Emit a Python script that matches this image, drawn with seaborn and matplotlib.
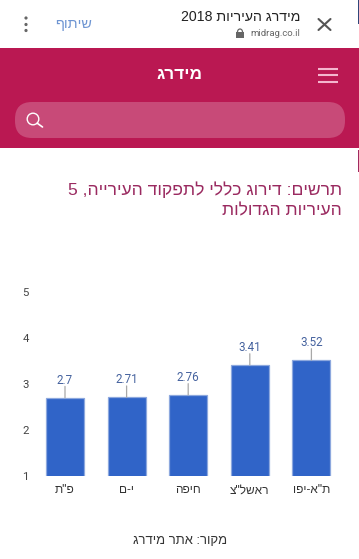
import re
import matplotlib
matplotlib.use("Agg")
import matplotlib.pyplot as plt
from matplotlib.patches import FancyBboxPatch, Circle, Rectangle, Arc
import seaborn as sns
import pandas as pd

cities = ['פ"ת', 'י-ם', 'חיפה', 'ראשל"צ', 'ת"א-יפו']
scores = [2.7, 2.71, 2.76, 3.41, 3.52]
score_labels = ['2.7', '2.71', '2.76', '3.41', '3.52']
y_ticks = [1, 2, 3, 4, 5]
chart_title = ['תרשים: דירוג כללי לתפקוד העירייה, 5', 'העיריות הגדולות']
source_text = 'מקור: אתר מידרג'
browser_title = 'מידרג העיריות 2018'
browser_url = 'midrag.co.il'
share_text = 'שיתוף'
brand_text = 'מידרג'

W, H = 359, 559
BLUE = '#3064C8'
EDGE = '#8DA8DE'
CRIMSON = '#BA1852'
SEARCH = '#C84A78'
HEB = ['Liberation Sans', 'DejaVu Sans']
NUM = ['Roboto', 'Liberation Sans']


def visual(s):
    """matplotlib has no bidi support: lay RTL text out in visual order."""
    runs = re.findall(r'\d+|\D', s)
    return ''.join(reversed(runs))


sns.set_theme(style='white')
fig = plt.figure(figsize=(W / 100, H / 100), dpi=100, facecolor='white')

# Chart axes
left, right, top, bottom = 34.2, 342.2, 292, 476
ax = fig.add_axes([left / W, 1 - bottom / H, (right - left) / W, (bottom - top) / H])
df = pd.DataFrame({'city': cities, 'score': scores})
sns.barplot(data=df, x='city', y='score', color=BLUE, saturation=1, width=0.615,
            edgecolor=EDGE, linewidth=0.9, ax=ax)
ax.set_ylim(y_ticks[0], y_ticks[-1])
ax.set_yticks(y_ticks)
ax.set_yticklabels([str(t) for t in y_ticks], family=NUM, fontsize=8.2, color='#444444')
ax.set_xticks(range(len(cities)))
ax.set_xticklabels([visual(c) for c in cities], family=HEB, fontsize=8.6, color='#333333')
ax.set_xlabel('')
ax.set_ylabel('')
ax.tick_params(axis='both', length=0)
ax.tick_params(axis='y', pad=4)
ax.tick_params(axis='x', pad=6)
for s in ax.spines.values():
    s.set_visible(False)
ax.patch.set_alpha(0)

for i, (v, lab) in enumerate(zip(scores, score_labels)):
    ax.annotate('', xy=(i, v), xytext=(0, 8.2), textcoords='offset points',
                arrowprops=dict(arrowstyle='-', color='#A8A8A8', lw=0.9,
                                shrinkA=0, shrinkB=0))
    ax.annotate(lab, xy=(i, v), xytext=(0, 8.0), textcoords='offset points',
                ha='center', va='bottom', family=NUM, fontsize=8.4, color='#45629E')

# Page chrome, in pixel coordinates
ui = fig.add_axes([0, 0, 1, 1], zorder=-1)
ui.set_xlim(0, W)
ui.set_ylim(H, 0)
ui.axis('off')

ui.add_patch(Rectangle((0, 48), W, 100, color=CRIMSON, lw=0))
ui.add_patch(Rectangle((358, 0), 1, 24, color='#30467A', lw=0))
ui.add_patch(Rectangle((358, 150), 1, 22, color='#A02A60', lw=0))
ui.add_patch(FancyBboxPatch((15, 102), 330, 36, boxstyle='round,pad=0,rounding_size=17',
                            color=SEARCH, lw=0))

# search icon
ui.add_patch(Circle((33, 119), 5.8, fill=False, ec='white', lw=1.0))
ui.plot([37.2, 42.5], [123.2, 127], color='white', lw=1.2, solid_capstyle='round')
# hamburger
for y in (68.5, 75, 81.5):
    ui.plot([318, 337.5], [y, y], color='#F4B6CE', lw=1.5, solid_capstyle='butt')
# close
ui.plot([318.5, 330.5], [19, 30], color='#555555', lw=1.5)
ui.plot([318.5, 330.5], [30, 19], color='#555555', lw=1.5)
# three dots
for y in (18, 24.5, 30.5):
    ui.add_patch(Circle((26, y), 1.6, color='#666666', lw=0))
# lock
ui.add_patch(Rectangle((236, 32), 8, 6, color='#666666', lw=0))
ui.add_patch(Arc((240, 32), 5, 6, theta1=180, theta2=360, color='#666666', lw=0.9))

ui.text(300, 17, visual(browser_title), ha='right', va='center', family=HEB, fontsize=10.2, color='#222222')
ui.text(300.5, 34, browser_url, ha='right', va='center', family=NUM, fontsize=6.8, color='#666666')
ui.text(74, 24, visual(share_text), ha='center', va='center', family=HEB, fontsize=10.4, color='#6E95D2')
ui.text(179.5, 74.5, visual(brand_text), ha='center', va='center', family=HEB, fontsize=12.4, fontweight='bold', color='white')
ui.text(342, 190, visual(chart_title[0]), ha='right', va='center', family=HEB, fontsize=12.6, color='#9A2A60')
ui.text(342, 211, visual(chart_title[1]), ha='right', va='center', family=HEB, fontsize=12.6, color='#9A2A60')
ui.text(180, 541, visual(source_text), ha='center', va='center', family=HEB, fontsize=9.4, color='#333333')

fig.savefig('out.png', dpi=100, facecolor='white')
